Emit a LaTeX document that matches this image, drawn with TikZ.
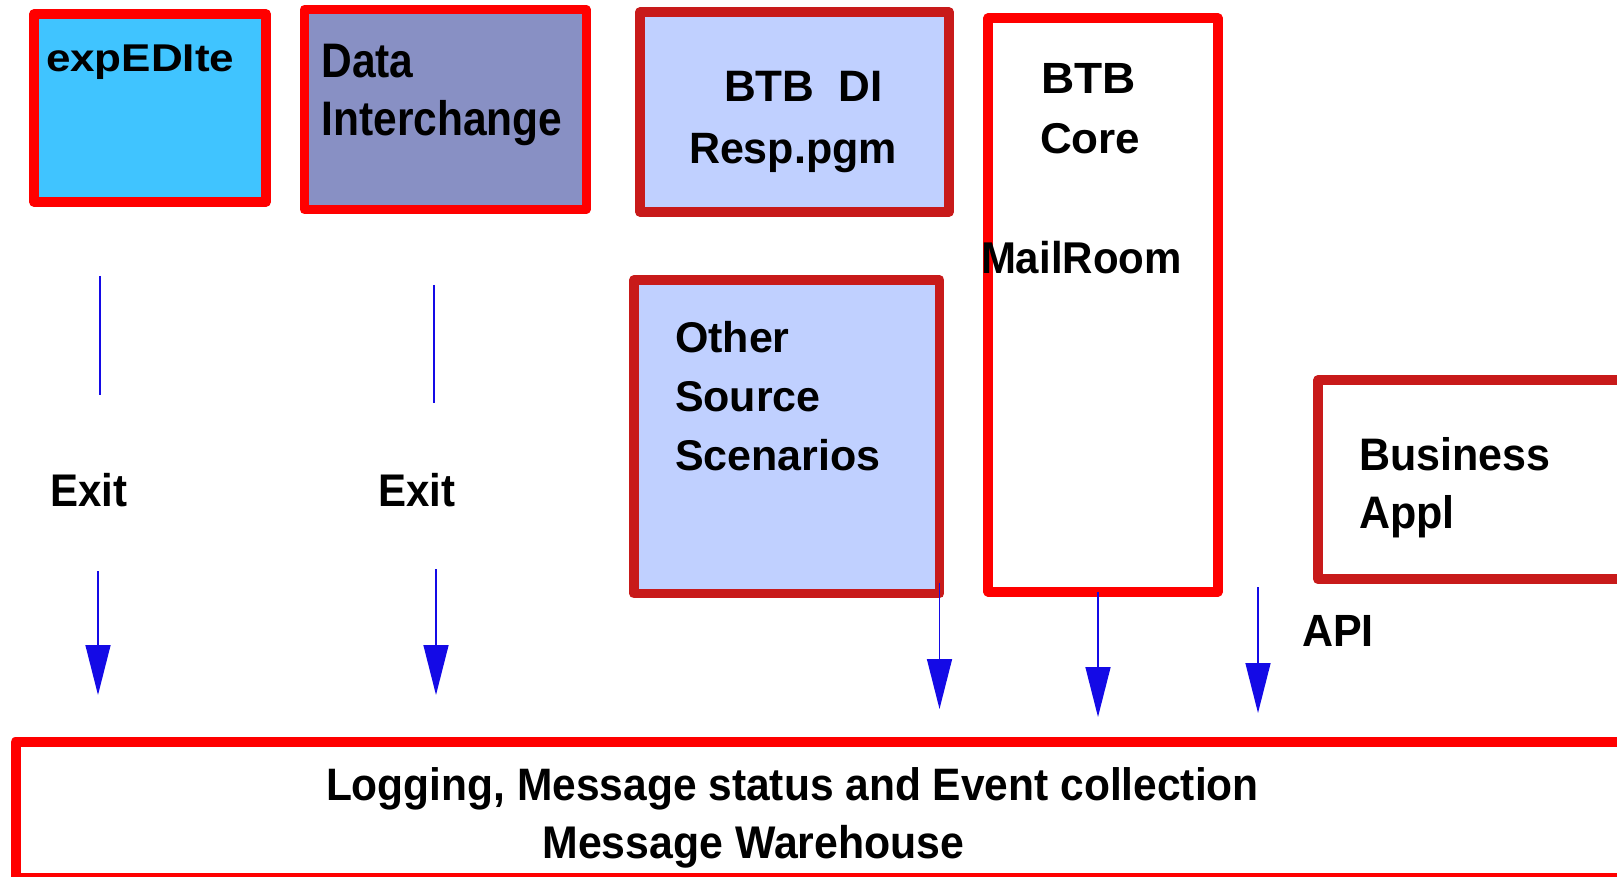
\documentclass[tikz,border=0pt]{standalone}
\usepackage{fontspec}
\setmainfont{Liberation Sans}
\usepackage{graphicx}
\usetikzlibrary{arrows.meta}
\definecolor{rd}{RGB}{255,0,0}
\definecolor{drd}{RGB}{200,26,26}
\definecolor{cyanfill}{RGB}{64,196,255}
\definecolor{slatefill}{RGB}{136,144,196}
\definecolor{paleblue}{RGB}{192,208,255}
\definecolor{arrblue}{RGB}{20,10,230}
\newcommand\ys[2]{\scalebox{1}[#1]{#2}}
\begin{document}
\begin{tikzpicture}[x=1pt,y=-1pt,
  box/.style={draw, line join=round, rectangle, inner sep=0pt, outer sep=0pt},
  lbl/.style={anchor=base west, inner sep=0pt, outer sep=0pt, font=\fontsize{43}{43}\selectfont\bfseries},
  fs/.style={font=\fontsize{#1}{#1}\selectfont\bfseries},
  conn/.style={draw=arrblue, line width=1.5pt},
  arr/.style={conn, -{Triangle[width=25pt,length=50pt]}}
]
\useasboundingbox (0,0) rectangle (1617,877);
% boxes
\node[box, draw=rd, line width=9.5pt, fill=cyanfill, minimum width=232pt, minimum height=188pt] (exp) at (150,108) {};
\node[box, draw=rd, line width=9pt, fill=slatefill, minimum width=281.5pt, minimum height=200pt] (di) at (445.25,109.5) {};
\node[box, draw=drd, line width=10pt, fill=paleblue, minimum width=309pt, minimum height=199.4pt] (resp) at (794.5,112) {};
\node[box, draw=rd, line width=10pt, fill=white, minimum width=229.4pt, minimum height=573.4pt] (core) at (1103,305) {};
\node[box, draw=drd, line width=9.7pt, fill=paleblue, minimum width=305.5pt, minimum height=313.5pt] (other) at (786.75,436.75) {};
\node[box, draw=drd, line width=10pt, fill=white, minimum width=341.7pt, minimum height=199.3pt] (biz) at (1489,479.65) {};
\node[box, draw=rd, line width=10pt, fill=white, minimum width=1644.5pt, minimum height=136pt] (log) at (837.75,810) {};
% labels
\node[lbl, fs=44] (expT) at (46,71.7) {\ys{0.88}{expEDIte}};
\node[lbl, fs=42.5] (diT1) at (321.5,77.7) {\ys{1.14}{Data}};
\node[lbl, fs=42.5] (diT2) at (321.5,136) {\ys{1.14}{Interchange}};
\node[lbl, fs=44] (respT1) at (724,101.7) {\ys{1.0}{BTB~~DI}};
\node[lbl] (respT2) at (689,163.3) {\ys{1.02}{Resp.pgm}};
\node[lbl, fs=46] (coreT1) at (1041,93.3) {\ys{0.95}{BTB}};
\node[lbl, fs=44] (coreT2) at (1040,153.3) {\ys{0.98}{Core}};
\node[lbl, fs=42] (coreT3) at (981,274) {\ys{1.06}{MailRoom}};
\node[lbl] (otherT1) at (675,352.7) {Other};
\node[lbl] (otherT2) at (675,411.7) {Source};
\node[lbl] (otherT3) at (675,470) {Scenarios};
\node[lbl] (bizT1) at (1359,470) {\ys{1.06}{Business}};
\node[lbl] (bizT2) at (1359,528.3) {\ys{1.06}{Appl}};
\node[lbl, fs=42] (exit1) at (50,506) {\ys{1.09}{Exit}};
\node[lbl, fs=42] (exit2) at (378,506) {\ys{1.09}{Exit}};
\node[lbl] (api) at (1302,646) {\ys{1.05}{API}};
\node[lbl, fs=42.5] (logT1) at (326,800) {\ys{1.07}{Logging, Message status and Event collection}};
\node[lbl, fs=42.8] (logT2) at (542.5,858.3) {\ys{1.07}{Message Warehouse}};
% connector end points
\coordinate (u1a) at (100,276);
\coordinate (u1b) at (100,395);
\coordinate (u2a) at (434,285);
\coordinate (u2b) at (434,403);
\coordinate (a1a) at (98,571);
\coordinate (a1b) at (98,695);
\coordinate (a2a) at (436,569);
\coordinate (a2b) at (436,695);
\coordinate (a3a) at (939.5,583);
\coordinate (a3b) at (939.5,709);
\coordinate (a4a) at (1098,592);
\coordinate (a4b) at (1098,717);
\coordinate (a5a) at (1258,587);
\coordinate (a5b) at (1258,713);
% connectors
\draw[conn] (u1a) -- (u1b);
\draw[conn] (u2a) -- (u2b);
\draw[arr] (a1a) -- (a1b);
\draw[arr] (a2a) -- (a2b);
\draw[arr] (a3a) -- (a3b);
\draw[arr] (a4a) -- (a4b);
\draw[arr] (a5a) -- (a5b);
\end{tikzpicture}
\end{document}
